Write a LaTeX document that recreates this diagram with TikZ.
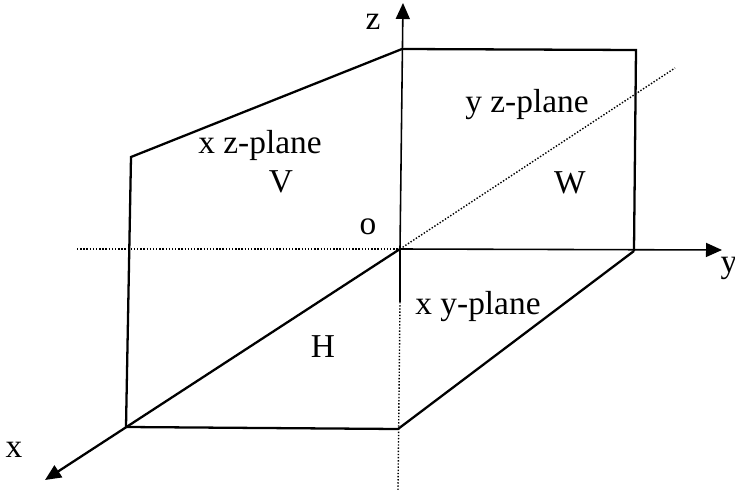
\documentclass[tikz,border=0pt]{standalone}
\usepackage{fontspec}
\setmainfont{Liberation Serif}
\usetikzlibrary{arrows.meta}

\begin{document}
\begin{tikzpicture}[x=0.02cm,y=-0.02cm,>={Triangle[length=3.2mm,width=2.8mm]},
  edge/.style={line width=1.3pt},
  thinedge/.style={line width=0.9pt},
  hidden/.style={densely dotted,line width=0.8pt},
  lbl/.style={inner sep=0pt,font=\fontsize{19}{22}\selectfont}]
  \useasboundingbox (0,0) rectangle (735,490);
  % corners of the three planes
  \coordinate (O) at (400,249);
  \coordinate (VA) at (131,157);
  \coordinate (VB) at (402,49);
  \coordinate (WC) at (636,50);
  \coordinate (WD) at (634,251);
  \coordinate (HA) at (126,427);
  \coordinate (HB) at (398,429);
  \coordinate (Zcut) at (400,302);
  \coordinate (Zend) at (398,490);
  \coordinate (Xtip) at (45,480);
  \coordinate (Ytip) at (722,250);
  \coordinate (Ztip) at (403,3);
  \coordinate (Lend) at (77,249);
  \coordinate (Dend) at (675,68);
  % hidden lines
  \draw[hidden] (Lend) -- (O);
  \draw[hidden] (O) -- (Dend);
  \draw[hidden] (Zcut) -- (Zend);
  % axes
  \draw[->,thinedge] (O) -- (Ztip);
  \draw[thinedge] (O) -- (Zcut);
  \draw[->,thinedge] (O) -- (Ytip);
  \draw[->,edge] (O) -- (Xtip);
  % planes
  \draw[edge] (HA) -- (VA) -- (VB) -- (WC) -- (WD);
  \draw[edge] (HA) -- (HB) -- (WD);
  % labels
  \node[lbl] (zl) at (373,22) {z};
  \node[lbl] (yl) at (729,268) {y};
  \node[lbl] (xl) at (14,450) {x};
  \node[lbl] (ol) at (368,227) {o};
  \node[lbl] (xz) at (260,145) {x z-plane};
  \node[lbl] (V) at (281,182) {V};
  \node[lbl] (yz) at (527,105) {y z-plane};
  \node[lbl] (W) at (570,183) {W};
  \node[lbl] (xy) at (478,307) {x y-plane};
  \node[lbl] (H) at (323,347) {H};
\end{tikzpicture}
\end{document}
